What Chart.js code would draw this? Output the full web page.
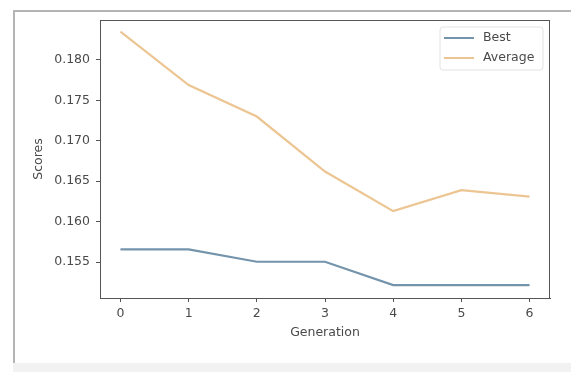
<!DOCTYPE html>
<html>
<head>
<meta charset="utf-8">
<script src="https://cdn.jsdelivr.net/npm/chart.js@4"></script>
<style>
  body { margin: 0; width: 571px; height: 372px; background: #fff; overflow: hidden; position: relative; }
  #frame { position: absolute; left: 13px; top: 10px; width: 560px; height: 352px; border-left: 2px solid #b4b4b4; border-top: 2px solid #b4b4b4; }
  #band { position: absolute; left: 13px; top: 363px; width: 560px; height: 9px; background: #f2f2f2; }
  #wrap { position: absolute; left: 0; top: 0; width: 571px; height: 372px; }
</style>
</head>
<body>
<div id="frame"></div>
<div id="band"></div>
<div id="wrap"><canvas id="grafico" width="571" height="372"></canvas></div>
<script>
// dados
const generations = [0, 1, 2, 3, 4, 5, 6];
const best = [0.15657, 0.15657, 0.15504, 0.15504, 0.15216, 0.15216, 0.15216];
const average = [0.1835, 0.1769, 0.1730, 0.1662, 0.1613, 0.1639, 0.1631];
const xTicks = [0, 1, 2, 3, 4, 5, 6];
const yTicks = [0.155, 0.160, 0.165, 0.170, 0.175, 0.180];

const corTexto = '#4a4a4a';
const fonte = { family: 'DejaVu Sans', size: 12.5 };

// moldura do gráfico (lados de cima e direita) + legenda
const molduraLegenda = {
    id: 'molduraLegenda',
    afterDraw(chart) {
        const ctx = chart.ctx;
        const a = chart.chartArea;
        ctx.save();
        ctx.strokeStyle = '#555';
        ctx.lineWidth = 1;
        ctx.strokeRect(a.left + 0.5, a.top + 0.5, a.right - a.left - 1, a.bottom - a.top);

        // legenda no canto superior direito
        const x0 = a.right - 110, y0 = a.top + 7;
        ctx.fillStyle = 'rgba(255,255,255,0.85)';
        ctx.strokeStyle = '#e2e2e2';
        ctx.beginPath();
        ctx.roundRect(x0, y0, 103, 43, 3);
        ctx.fill();
        ctx.stroke();
        ctx.font = '12.5px "DejaVu Sans"';
        ctx.textBaseline = 'middle';
        chart.data.datasets.forEach(function (ds, i) {
            const y = y0 + 11 + i * 20;
            ctx.strokeStyle = ds.borderColor;
            ctx.lineWidth = 2;
            ctx.beginPath();
            ctx.moveTo(x0 + 4, y);
            ctx.lineTo(x0 + 34, y);
            ctx.stroke();
            ctx.fillStyle = corTexto;
            ctx.fillText(ds.label, x0 + 43, y);
        });
        ctx.restore();
    }
};

const ctxGrafico = document.getElementById('grafico').getContext('2d');
const grafico = new Chart(ctxGrafico, {
    type: 'line',
    data: {
        datasets: [{
            label: 'Best',
            data: generations.map((g, i) => ({ x: g, y: best[i] })),
            borderColor: '#7494ab',
            borderWidth: 2.2,
            pointRadius: 0,
            tension: 0
        }, {
            label: 'Average',
            data: generations.map((g, i) => ({ x: g, y: average[i] })),
            borderColor: '#ecc592',
            borderWidth: 2.2,
            pointRadius: 0,
            tension: 0
        }]
    },
    options: {
        responsive: false,
        animation: false,
        layout: { padding: { left: 0, right: 21, top: 20, bottom: 0 } },
        plugins: { legend: { display: false }, tooltip: { enabled: false } },
        scales: {
            x: {
                type: 'linear',
                min: -0.3,
                max: 6.3,
                afterBuildTicks: scale => { scale.ticks = xTicks.map(v => ({ value: v })); },
                afterFit: scale => { scale.height = 74; },
                ticks: { color: corTexto, font: fonte, padding: 4, maxRotation: 0 },
                grid: { drawOnChartArea: false, drawTicks: true, tickLength: 4, color: '#555' },
                border: { color: '#555' },
                title: { display: true, text: 'Generation', color: corTexto, font: fonte, padding: 32 }
            },
            y: {
                min: 0.15056,
                max: 0.18494,
                afterBuildTicks: scale => { scale.ticks = yTicks.map(v => ({ value: v })); },
                afterFit: scale => { scale.width = 100; },
                ticks: { color: corTexto, font: fonte, padding: 6, callback: v => v.toFixed(3) },
                grid: { drawOnChartArea: false, drawTicks: true, tickLength: 4, color: '#555' },
                border: { color: '#555' },
                title: { display: true, text: 'Scores', color: corTexto, font: fonte, padding: 31 }
            }
        }
    },
    plugins: [molduraLegenda]
});
</script>
</body>
</html>
